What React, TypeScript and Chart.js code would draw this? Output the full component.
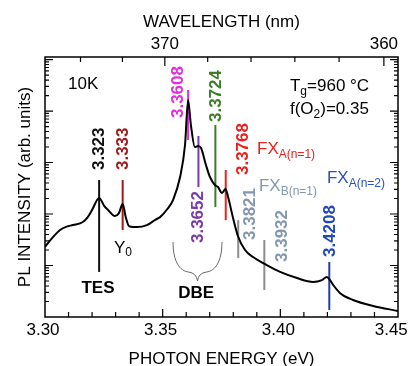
import React, { useEffect, useRef } from 'react';
import { Chart, registerables } from 'chart.js';

Chart.register(...registerables);

// ---------- data ----------
const curveEnergy = [3.3000, 3.3030, 3.3064, 3.3092, 3.3119, 3.3161, 3.3180, 3.3200, 3.3230, 3.3253, 3.3268, 3.3297, 3.3314, 3.3330, 3.3344, 3.3357, 3.3374, 3.3391, 3.3433, 3.3470, 3.3489, 3.3520, 3.3544, 3.3574, 3.3595, 3.3608, 3.3620, 3.3637, 3.3650, 3.3663, 3.3684, 3.3701, 3.3722, 3.3735, 3.3752, 3.3767, 3.3778, 3.3799, 3.3820, 3.3850, 3.3884, 3.3926, 3.3999, 3.4071, 3.4139, 3.4177, 3.4198, 3.4211, 3.4228, 3.4254, 3.4309, 3.4394, 3.4500];
const curveIntensity = [22.9, 34, 49, 57, 61, 70, 85, 120, 205, 140, 120, 91, 104, 156, 84, 58, 56, 56, 61, 78, 87, 125, 187, 523, 2190, 16400, 5350, 2000, 2090, 1910, 894, 523, 366, 334, 256, 306, 214, 84, 37, 20, 14.6, 11.2, 7.5, 5.7, 4.8, 5.2, 6.0, 5.2, 4.0, 2.9, 2.14, 1.64, 1.31];

const markerEnergy = [3.323, 3.333, 3.3608, 3.3652, 3.3724, 3.3768, 3.3821, 3.3932, 3.4208];
const markerLow = [7.5, 48.9, 2735, 334, 137, 76, 14, 3.34, 1.37];
const markerHigh = [457, 457, 25600, 3270, 5350, 715, 76, 31.3, 11.7];
const markerText = ['3.323', '3.333', '3.3608', '3.3652', '3.3724', '3.3768', '3.3821', '3.3932', '3.4208'];
const markerLabelStart = [715, 715, 7310, 27.3, 6110, 572, 31.3, 11.7, 14.6];

const energyTickLabels = [3.30, 3.35, 3.40, 3.45];
const energyTicks = [3.31, 3.32, 3.33, 3.34, 3.35, 3.36, 3.37, 3.38, 3.39, 3.40, 3.41, 3.42, 3.43, 3.44];
const wavelengthTickLabels = [370, 360];
const wavelengthTicks = [374, 372, 370, 368, 366, 364, 362, 360];

const E_MIN = 3.30;
const E_MAX = 3.45;
const I_MIN = 1;
const I_MAX = 112000;
const HC = 1239.84;

// ---------- styles ----------
const markerLineColor = ['#111111', '#9c1a1a', '#e02ee0', '#7a3aa8', '#3c7d26', '#e8221e', '#8c8c8c', '#8c8c8c', '#1f3fa8'];
const markerTextColor = ['#111111', '#9c1a1a', '#e02ee0', '#7a3aa8', '#3c7d26', '#e8221e', '#8497b0', '#8497b0', '#1f48b8'];
const markerLabelShift = [0, 1, -10, 0, 1, 18, 12, 18, 1];

const FONT = '"Liberation Sans", Arial, sans-serif';

type Part = [string, boolean];
type Note = { e: number; i: number; parts: Part[]; color: string; bold?: boolean; center?: boolean; subDy?: number };

const notes: Note[] = [
  { e: 3.3098, i: 26700, parts: [['10K', false]], color: '#000' },
  { e: 3.4041, i: 24450, parts: [['T', false], ['g', true], ['=960 °C', false]], color: '#000' },
  { e: 3.4041, i: 8750, parts: [['f(O', false], ['2', true], [')=0.35', false]], color: '#000' },
  { e: 3.3901, i: 1462, parts: [['FX', false], ['A(n=1)', true]], color: '#e8221e' },
  { e: 3.3909, i: 280, parts: [['FX', false], ['B(n=1)', true]], color: '#8497b0' },
  { e: 3.4198, i: 400, parts: [['FX', false], ['A(n=2)', true]], color: '#2a52be' },
  { e: 3.3293, i: 17.5, parts: [['Y', false], ['0', true]], color: '#000', subDy: 3 },
  { e: 3.3225, i: 2.92, parts: [['TES', false]], color: '#000', bold: true, center: true },
  { e: 3.3642, i: 2.34, parts: [['DBE', false]], color: '#000', bold: true, center: true },
];
const braceLeft = 3.3544;
const braceRight = 3.3752;
const braceTop = 28.6;
const braceTip = 5.0;

const overlay = {
  id: 'overlay',
  afterDatasetsDraw(chart: any) {
    const { ctx, chartArea: a, scales } = chart;
    const xs = scales.x;
    const ys = scales.y;
    const px = (v: number) => xs.getPixelForValue(v);
    const py = (v: number) => ys.getPixelForValue(v);
    ctx.save();

    // ticks
    ctx.strokeStyle = '#000';
    ctx.lineWidth = 1.2;
    ctx.beginPath();
    energyTicks.forEach((v) => {
      const x = px(v);
      const len = Math.round(v * 100) % 5 === 0 ? 8 : 5;
      ctx.moveTo(x, a.bottom);
      ctx.lineTo(x, a.bottom - len);
    });
    wavelengthTicks.forEach((w) => {
      const x = px(HC / w);
      const len = w % 10 === 0 ? 9 : 5;
      ctx.moveTo(x, a.top);
      ctx.lineTo(x, a.top + len);
    });
    for (let d = 0; d <= 5; d++) {
      for (let m = 1; m <= 9; m++) {
        const v = m * Math.pow(10, d);
        if (v <= I_MIN || v > I_MAX) continue;
        const y = py(v);
        const len = m === 1 ? 8 : 4;
        ctx.moveTo(a.left, y);
        ctx.lineTo(a.left + len, y);
        ctx.moveTo(a.right, y);
        ctx.lineTo(a.right - len, y);
      }
    }
    ctx.stroke();

    // frame
    ctx.lineWidth = 1.5;
    ctx.strokeRect(a.left, a.top, a.right - a.left, a.bottom - a.top);

    // marker labels (rotated)
    ctx.font = `bold 17px ${FONT}`;
    ctx.textAlign = 'left';
    ctx.textBaseline = 'middle';
    markerText.forEach((t, k) => {
      ctx.save();
      ctx.translate(px(markerEnergy[k]) + markerLabelShift[k], py(markerLabelStart[k]));
      ctx.rotate(-Math.PI / 2);
      ctx.fillStyle = markerTextColor[k];
      ctx.fillText(t, 0, 0);
      ctx.restore();
    });

    // notes
    ctx.textBaseline = 'alphabetic';
    notes.forEach((n) => {
      const mainFont = `${n.bold ? 'bold ' : ''}17px ${FONT}`;
      const subFont = `${n.bold ? 'bold ' : ''}12px ${FONT}`;
      let total = 0;
      n.parts.forEach(([s, sub]) => {
        ctx.font = sub ? subFont : mainFont;
        total += ctx.measureText(s).width;
      });
      let x = px(n.e) - (n.center ? total / 2 : 0);
      const y = py(n.i);
      ctx.fillStyle = n.color;
      ctx.textAlign = 'left';
      n.parts.forEach(([s, sub]) => {
        ctx.font = sub ? subFont : mainFont;
        ctx.fillText(s, x, sub ? y + (n.subDy ?? 4) : y);
        x += ctx.measureText(s).width;
      });
    });

    // brace under DBE
    const bl = px(braceLeft);
    const br = px(braceRight);
    const bc = (bl + br) / 2;
    const bt = py(braceTop);
    const bp = py(braceTip);
    const bm = bp - 10;
    ctx.strokeStyle = '#666';
    ctx.lineWidth = 1;
    ctx.beginPath();
    ctx.moveTo(bl, bt);
    ctx.bezierCurveTo(bl, bt + 20, bl + 7, bm, bc - 9, bm + 1);
    ctx.quadraticCurveTo(bc - 1, bm + 2, bc, bp);
    ctx.moveTo(br, bt);
    ctx.bezierCurveTo(br, bt + 20, br - 7, bm, bc + 9, bm + 1);
    ctx.quadraticCurveTo(bc + 1, bm + 2, bc, bp);
    ctx.stroke();

    ctx.restore();
  },
};

export default function App() {
  const ref = useRef<HTMLCanvasElement>(null);
  useEffect(() => {
    document.body.style.margin = '0';
    Chart.defaults.font.family = FONT;
    Chart.defaults.color = '#000';

    const datasets: any[] = [
      {
        data: curveEnergy.map((e, i) => ({ x: e, y: curveIntensity[i] })),
        borderColor: '#000',
        borderWidth: 2,
        pointRadius: 0,
        cubicInterpolationMode: 'monotone',
        fill: false,
      },
      ...markerEnergy.map((e, k) => ({
        data: [
          { x: e, y: markerLow[k] },
          { x: e, y: markerHigh[k] },
        ],
        borderColor: markerLineColor[k],
        borderWidth: 2,
        pointRadius: 0,
        fill: false,
      })),
    ];

    const zeroPad = (scale: any) => {
      scale.paddingLeft = 0;
      scale.paddingRight = 0;
      scale.paddingTop = 0;
      scale.paddingBottom = 0;
    };

    const lastEnergyLabel = energyTickLabels[energyTickLabels.length - 1];

    const chart = new Chart(ref.current as HTMLCanvasElement, {
      type: 'line',
      data: { datasets },
      options: {
        responsive: false,
        maintainAspectRatio: false,
        animation: false,
        devicePixelRatio: 1,
        layout: { padding: { left: 0, right: 13, top: 0, bottom: 0 } },
        plugins: { legend: { display: false }, tooltip: { enabled: false } },
        scales: {
          x: {
            type: 'linear',
            position: 'bottom',
            min: E_MIN,
            max: E_MAX,
            grid: { display: false, drawTicks: false },
            border: { display: false },
            afterBuildTicks: (s: any) => {
              s.ticks = energyTickLabels.map((v) => ({ value: v }));
            },
            ticks: {
              padding: 3,
              maxRotation: 0,
              autoSkip: false,
              labelOffset: -2,
              font: { size: 17, family: FONT },
              color: '#000',
              callback: (v: any) => {
                const t = Number(v).toFixed(2);
                return Math.abs(Number(v) - lastEnergyLabel) < 1e-6 ? t + '\u00a0\u00a0' : t;
              },
            },
            title: {
              display: true,
              text: 'PHOTON ENERGY (eV)',
              font: { size: 17, family: FONT },
              color: '#000',
              padding: { top: 0, bottom: -4 },
            },
            afterFit: (s: any) => {
              s.height = 49;
              zeroPad(s);
            },
          },
          x2: {
            type: 'linear',
            axis: 'x',
            position: 'top',
            min: E_MIN,
            max: E_MAX,
            grid: { display: false, drawTicks: false },
            border: { display: false },
            afterBuildTicks: (s: any) => {
              s.ticks = wavelengthTickLabels.map((w) => ({ value: HC / w }));
            },
            ticks: {
              padding: 2,
              maxRotation: 0,
              autoSkip: false,
              font: { size: 17, family: FONT },
              color: '#000',
              callback: (v: any) => String(Math.round(HC / Number(v))),
            },
            title: {
              display: true,
              text: 'WAVELENGTH (nm)',
              font: { size: 17, family: FONT },
              color: '#000',
              padding: { top: 12, bottom: 0 },
            },
            afterFit: (s: any) => {
              s.height = 57;
              zeroPad(s);
            },
          },
          y: {
            type: 'logarithmic',
            position: 'left',
            min: I_MIN,
            max: I_MAX,
            grid: { display: false, drawTicks: false },
            border: { display: false },
            ticks: { display: false },
            title: {
              display: true,
              text: 'PL INTENSITY (arb. units)',
              font: { size: 17, family: FONT },
              color: '#000',
              padding: { top: 15, bottom: 0 },
            },
            afterFit: (s: any) => {
              s.width = 45;
              zeroPad(s);
            },
          },
        },
      } as any,
      plugins: [overlay],
    });
    return () => chart.destroy();
  }, []);

  return (
    <canvas
      ref={ref}
      width={411}
      height={366}
      style={{ display: 'block', width: 411, height: 366 }}
    />
  );
}
